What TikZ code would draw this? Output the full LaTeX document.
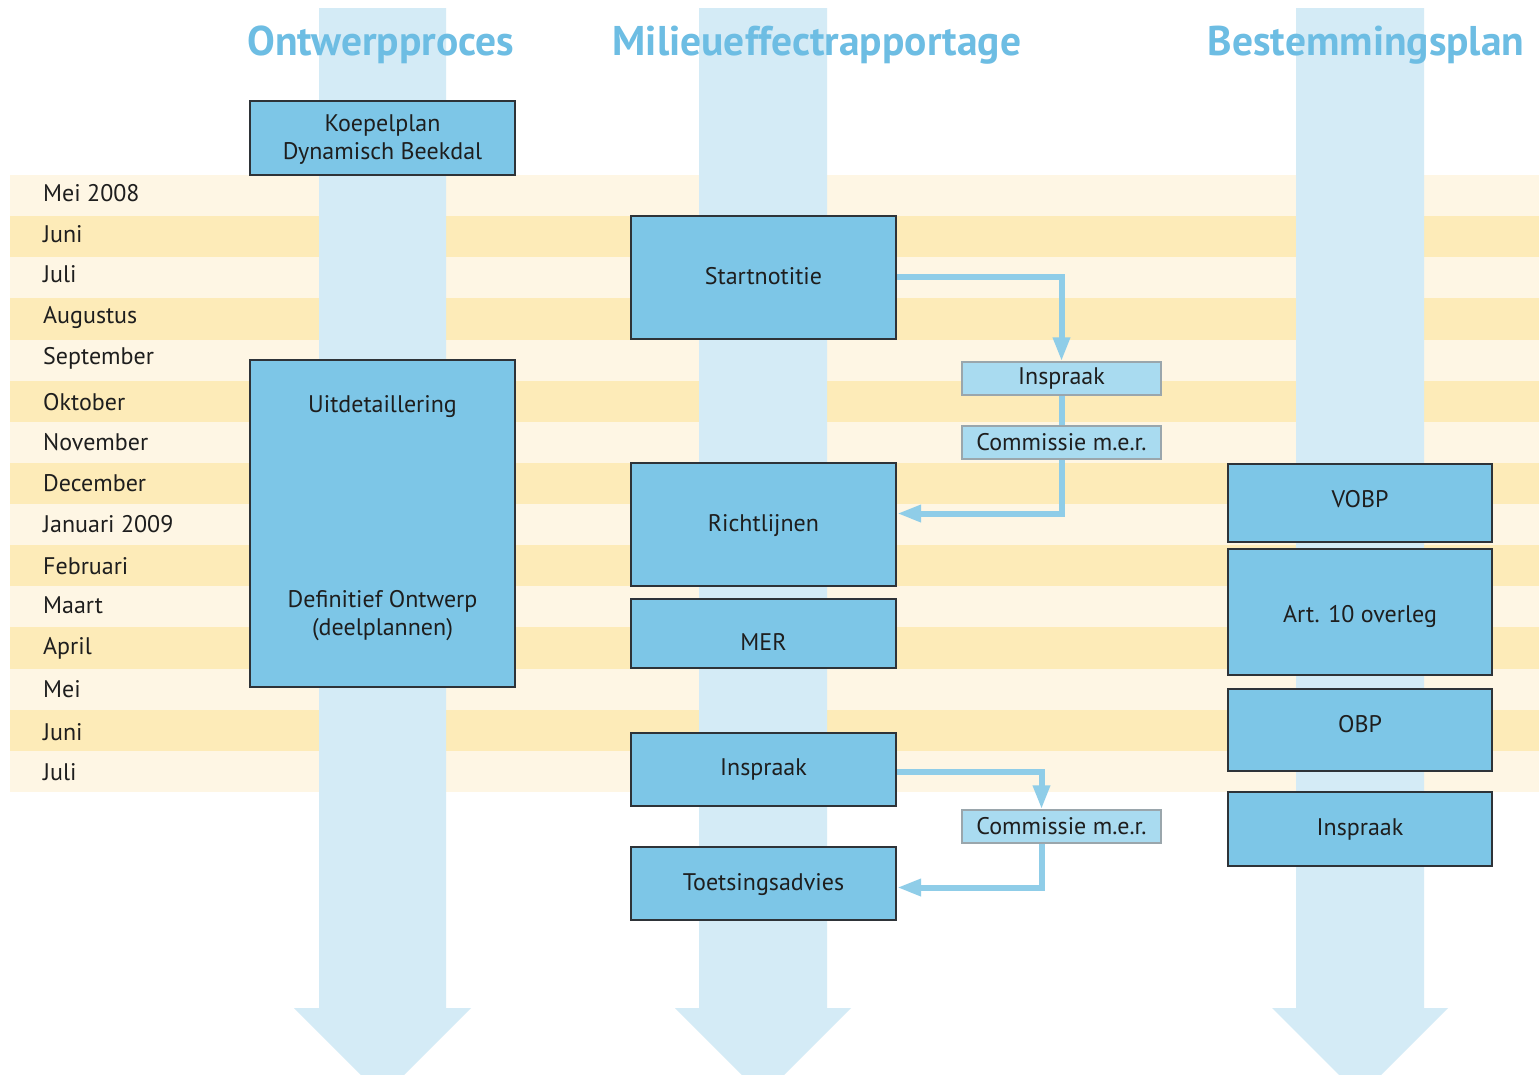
\documentclass[tikz,border=0pt]{standalone}
\usepackage{fontspec}
\setmainfont{PT Sans}
\usetikzlibrary{arrows.meta}
\definecolor{stripeL}{HTML}{FEF6E4}
\definecolor{stripeD}{HTML}{FDEBB8}
\definecolor{shaft}{HTML}{D4EBF6}
\definecolor{boxfill}{HTML}{7DC6E7}
\definecolor{smallfill}{HTML}{A9DBF0}
\definecolor{smallline}{HTML}{9AA6AC}
\definecolor{conncol}{HTML}{8FCDE8}
\definecolor{titlecol}{HTML}{6DBDE3}
\definecolor{boxline}{HTML}{2E3338}
\definecolor{txt}{HTML}{1E1E1E}
\begin{document}
\begin{tikzpicture}[x=1pt,y=-1pt,
  bigbox/.style={draw=boxline, line width=2pt, fill=boxfill, inner sep=0pt},
  smallbox/.style={draw=smallline, line width=1.2pt, fill=smallfill, inner sep=0pt,
     minimum width=199pt, minimum height=33pt, text=txt, font=\fontsize{24}{28}\selectfont},
  lbl/.style={text=txt, font=\fontsize{24}{28}\selectfont, align=center, inner sep=0pt, yshift=-2.5pt},
  month/.style={text=txt, font=\fontsize{24}{28}\selectfont, anchor=west, inner sep=0pt},
  title/.style={text=titlecol, font=\fontsize{41.5}{46}\selectfont\bfseries, inner sep=0pt},
  conn/.style={draw=conncol, line width=6pt},
  connarrow/.style={conn, -{Triangle[length=24pt,width=16pt]}},
  shaftstyle/.style={fill=shaft, draw=none}
]
\useasboundingbox (0,0) rectangle (1539,1074);
\clip (0,0) rectangle (1539,1074);
\fill[white] (0,0) rectangle (1539,1074);

% stripes
\foreach \i in {0,...,14} {
  \pgfmathsetmacro{\ya}{175+41.13*\i}
  \pgfmathsetmacro{\yb}{175+41.13*(\i+1)}
  \pgfmathtruncatemacro{\odd}{mod(\i,2)}
  \ifnum\odd=0
    \fill[stripeL] (10,\ya) rectangle (1539,\yb);
  \else
    \fill[stripeD] (10,\ya) rectangle (1539,\yb);
  \fi
}

% big arrows (shafts)
\fill[shaftstyle] (319,8) -- (446,8) -- (446,1008) -- (471,1008) -- (382.5,1096.5) -- (294,1008) -- (319,1008) -- cycle;
\fill[shaftstyle] (699,8) -- (827,8) -- (827,1008) -- (851,1008) -- (763,1096) -- (675,1008) -- (699,1008) -- cycle;
\fill[shaftstyle] (1296,8) -- (1424,8) -- (1424,1008) -- (1448,1008) -- (1360,1096) -- (1272,1008) -- (1296,1008) -- cycle;

% titles
\node[title] (t1) at (381,45) {Ontwerpproces};
\node[title] (t2) at (817,45) {Milieueffectrapportage};
\node[title] (t3) at (1366,45) {Bestemmingsplan};

% months
\node[month] (m1) at (43,193) {Mei 2008};
\node[month] (m2) at (43,234) {Juni};
\node[month] (m3) at (43,274) {Juli};
\node[month] (m4) at (43,318) {Augustus};
\node[month] (m5) at (43,358) {September};
\node[month] (m6) at (43,402) {Oktober};
\node[month] (m7) at (43,442) {November};
\node[month] (m8) at (43,483) {December};
\node[month] (m9) at (43,524) {Januari 2009};
\node[month] (m10) at (43,566) {Februari};
\node[month] (m11) at (43,605) {Maart};
\node[month] (m12) at (43,648) {April};
\node[month] (m13) at (43,689) {Mei};
\node[month] (m14) at (43,732) {Juni};
\node[month] (m15) at (43,772) {Juli};

% left column
\node[bigbox, minimum width=265pt, minimum height=74pt] (koepel) at (382.5,138) {};
\node[lbl] (koepelt) at (382.5,137) {Koepelplan\\Dynamisch Beekdal};
\node[bigbox, minimum width=265pt, minimum height=327pt] (ontw) at (382.5,523.5) {};
\node[lbl] (uit) at (382.5,404) {Uitdetaillering};
\node[lbl] (def) at (382.5,613) {Definitief Ontwerp\\(deelplannen)};

% middle column
\node[bigbox, minimum width=265pt, minimum height=123pt] (start) at (763.5,277.5) {};
\node[lbl] (startt) at (763.5,274) {Startnotitie};
\node[bigbox, minimum width=265pt, minimum height=123pt] (richt) at (763.5,524.5) {};
\node[lbl] (richtt) at (763.5,523) {Richtlijnen};
\node[bigbox, minimum width=265pt, minimum height=69pt] (mer) at (763.5,633.5) {};
\node[lbl] (mert) at (763.5,639) {MER};
\node[bigbox, minimum width=265pt, minimum height=73pt] (insp) at (763.5,769.5) {};
\node[lbl] (inspt) at (763.5,767) {Inspraak};
\node[bigbox, minimum width=265pt, minimum height=73pt] (toets) at (763.5,883.5) {};
\node[lbl] (toetst) at (763.5,882) {Toetsingsadvies};

% small boxes
\node[smallbox] (insp1) at (1061.5,378.5) {Inspraak};
\node[smallbox] (com1) at (1061.5,442.5) {Commissie m.e.r.};
\node[smallbox] (com2) at (1061.5,826.5) {Commissie m.e.r.};

% right column
\node[bigbox, minimum width=264pt, minimum height=78pt] (vobp) at (1360,503) {};
\node[lbl] (vobpt) at (1360,497) {VOBP};
\node[bigbox, minimum width=264pt, minimum height=126pt] (art) at (1360,612) {};
\node[lbl] (artt) at (1360,614) {Art. 10 overleg};
\node[bigbox, minimum width=264pt, minimum height=82pt] (obp) at (1360,730) {};
\node[lbl] (obpt) at (1360,722) {OBP};
\node[bigbox, minimum width=264pt, minimum height=74pt] (insp3) at (1360,829) {};
\node[lbl] (insp3t) at (1360,827) {Inspraak};

% connectors
\draw[connarrow] ([yshift=1pt]start.east) -| (insp1.north);
\draw[conn] (insp1.south) -- (com1.north);
\draw[connarrow] (com1.south) |- ([yshift=11pt]richt.east);
\draw[connarrow] ([yshift=-2pt]insp.east) -| ([xshift=-20pt]com2.north);
\draw[connarrow] ([xshift=-20pt]com2.south) |- ([yshift=-4pt]toets.east);
\end{tikzpicture}
\end{document}
